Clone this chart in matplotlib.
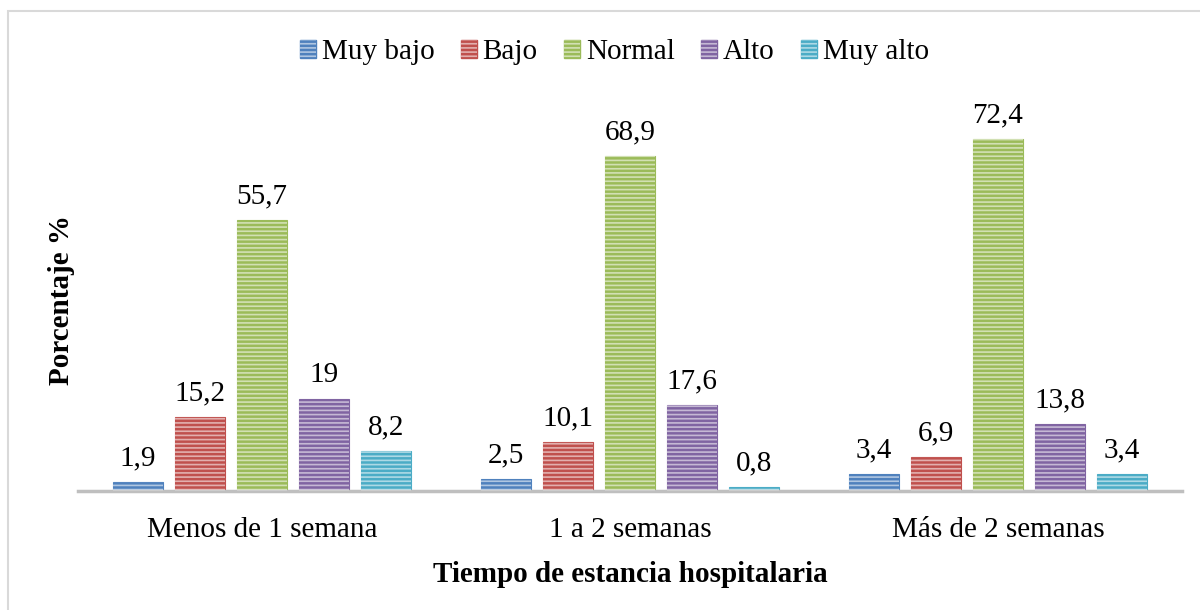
import numpy as np
import matplotlib
matplotlib.use("Agg")
import matplotlib.pyplot as plt
from matplotlib.patches import Patch, Rectangle
from matplotlib.legend_handler import HandlerTuple

plt.rcParams['font.family'] = ['Liberation Serif', 'DejaVu Serif']
plt.rcParams['hatch.linewidth'] = 1.2

categories = ['Menos de 1 semana', '1 a 2 semanas', 'Más de 2 semanas']
series_names = ['Muy bajo', 'Bajo', 'Normal', 'Alto', 'Muy alto']
muy_bajo = [1.9, 2.5, 3.4]
bajo = [15.2, 10.1, 6.9]
normal = [55.7, 68.9, 72.4]
alto = [19, 17.6, 13.8]
muy_alto = [8.2, 0.8, 3.4]
colors = ['#4F81BD', '#C0504D', '#9BBB59', '#8064A2', '#4BACC6']

series = [muy_bajo, bajo, normal, alto, muy_alto]

fig = plt.figure(figsize=(12, 6.1), dpi=100)
ax = fig.add_axes([78 / 1200, 119 / 610, 1104 / 1200, 389 / 610])

x = np.arange(len(categories))
step = 62 / 368
width = 50 / 368
stripe = (1, 1, 1, 0.55)

for i, (vals, col) in enumerate(zip(series, colors)):
    pos = x + (i - 2) * step
    ax.bar(pos, vals, width, color=col, edgecolor=col, linewidth=0.8, zorder=2)
    # striped texture on top of the bars
    ax.bar(pos, vals, width, facecolor='none', edgecolor=stripe, linewidth=0,
           hatch='----', zorder=3)
    for px, v in zip(pos, vals):
        ax.annotate(f"{v:g}".replace('.', ','), (px, v), xytext=(0, 12),
                    textcoords='offset points', ha='center', va='baseline',
                    fontsize=21)

ax.set_xlim(-0.5, 2.5)
ax.set_ylim(0, 80)
ax.set_yticks([])
ax.set_xticks(x)
ax.set_xticklabels(categories, fontsize=21)
ax.tick_params(axis='x', length=0, pad=19)
for s in ['top', 'right', 'left']:
    ax.spines[s].set_visible(False)
ax.spines['bottom'].set_color('#BFBFBF')
ax.spines['bottom'].set_linewidth(2.5)
ax.set_xlabel('Tiempo de estancia hospitalaria', fontsize=21, fontweight='bold',
              labelpad=13)
ax.set_ylabel('Porcentaje %', fontsize=21, fontweight='bold', va='center')
ax.yaxis.set_label_coords(-0.0145, 0.492)

handles = [(Patch(facecolor=c, edgecolor=c),
            Patch(facecolor='none', edgecolor=stripe, linewidth=0, hatch='----'))
           for c in colors]
fig.legend(handles, series_names, loc='center', bbox_to_anchor=(0.512, 0.914),
           ncol=5, frameon=False, fontsize=21, handlelength=0.55,
           handleheight=0.55, handletextpad=0.2, columnspacing=0.9,
           handler_map={tuple: HandlerTuple(ndivide=1, pad=0)})

fig.add_artist(Rectangle((8 / 1200, -0.1), 1.2, (610 - 11) / 610 + 0.1,
                         transform=fig.transFigure, fill=False,
                         edgecolor='#D9D9D9', linewidth=1.5))

fig.savefig('out.png', dpi=100)
